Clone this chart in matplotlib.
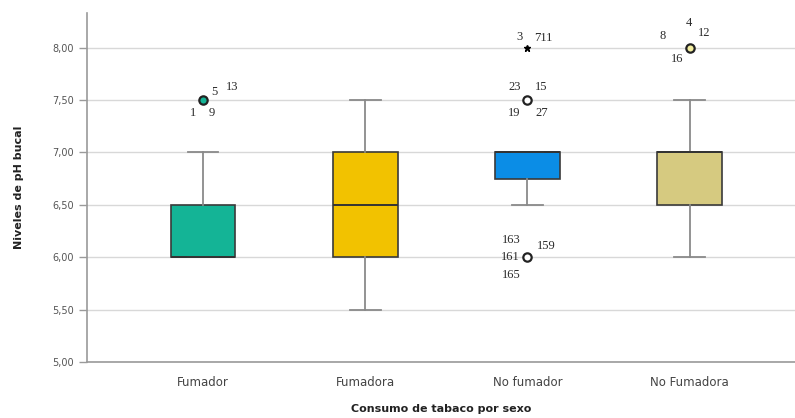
import matplotlib
matplotlib.use('Agg')
import matplotlib.pyplot as plt
from matplotlib.ticker import FuncFormatter

# datos
grupos = ['Fumador', 'Fumadora', 'No fumador', 'No Fumadora']
q1 = [6.0, 6.0, 6.75, 6.5]
mediana = [6.0, 6.5, 7.0, 7.0]
q3 = [6.5, 7.0, 7.0, 7.0]
bigote_inf = [6.0, 5.5, 6.5, 6.0]
bigote_sup = [7.0, 7.5, 7.0, 7.5]
colores = ['#14b496', '#f2c200', '#0b8de6', '#d6ca80']

# atipicos: (grupo, valor, tipo, etiquetas con desplazamiento en pixeles)
atipicos = [
    (0, 7.5, 'o', [('5', 11, 8), ('13', 29, 13), ('1', -10, -13), ('9', 9, -13)]),
    (2, 8.0, '*', [('3', -8, 11), ('711', 16, 10)]),
    (2, 7.5, 'o', [('23', -13, 13), ('15', 14, 13), ('19', -13, -13), ('27', 14, -13)]),
    (2, 6.0, 'o', [('163', -16, 17), ('159', 19, 11), ('161', -17, 0), ('165', -16, -18)]),
    (3, 8.0, 'o', [('8', -27, 12), ('4', -1, 25), ('12', 15, 15), ('16', -12, -11)]),
]
relleno_atipico = {0: '#14b496', 2: 'white', 3: '#f3eea0'}

fig = plt.figure(figsize=(7.95, 4.18), dpi=100)
ax = fig.add_axes([0.1094, 0.134, 0.8906, 0.835])

stats = []
for i in range(len(grupos)):
    stats.append({'med': mediana[i], 'q1': q1[i], 'q3': q3[i],
                  'whislo': bigote_inf[i], 'whishi': bigote_sup[i], 'fliers': []})

bp = ax.bxp(stats, positions=range(1, 5), widths=0.4, patch_artist=True,
            showfliers=False,
            boxprops=dict(edgecolor='#3a3a3a', linewidth=1.2),
            medianprops=dict(color='#333333', linewidth=1.4),
            whiskerprops=dict(color='#8a8a8a', linewidth=1.3),
            capprops=dict(color='#8a8a8a', linewidth=1.3))
for caja, c in zip(bp['boxes'], colores):
    caja.set_facecolor(c)
for cap in bp['caps']:
    x = cap.get_xdata()
    m = (x[0] + x[1]) / 2
    cap.set_xdata([m - 0.095, m + 0.095])

for g, v, tipo, etiquetas in atipicos:
    if tipo == '*':
        ax.plot(g + 1, v, marker='*', color='black', markersize=5, zorder=4)
    else:
        ax.plot(g + 1, v, marker='o', markerfacecolor=relleno_atipico[g],
                markeredgecolor='#222222', markeredgewidth=1.6, markersize=6, zorder=4)
    for txt, dx, dy in etiquetas:
        ax.annotate(txt, (g + 1, v), xytext=(dx, dy), textcoords='offset pixels',
                    ha='center', va='center', fontsize=9, color='#2a2a2a',
                    family='Liberation Serif')

ax.set_xlim(0.285, 4.65)
ax.set_ylim(5.0, 8.33)
ax.set_yticks([5.0, 5.5, 6.0, 6.5, 7.0, 7.5, 8.0])
ax.yaxis.set_major_formatter(FuncFormatter(lambda y, p: ('%.2f' % y).replace('.', ',')))
ax.set_xticks(range(1, 5))
ax.set_xticklabels(grupos)
ax.grid(axis='y', color='#d8d8d8', linewidth=1)
ax.set_axisbelow(True)
for s in ['top', 'right']:
    ax.spines[s].set_visible(False)
ax.spines['left'].set_color('#9a9a9a')
ax.spines['bottom'].set_color('#9a9a9a')
ax.spines['left'].set_linewidth(1.2)
ax.spines['bottom'].set_linewidth(1.2)
ax.tick_params(axis='y', colors='#9a9a9a', labelcolor='#555555', labelsize=7, length=6, width=1)
ax.tick_params(axis='x', length=0, labelsize=8.5, labelcolor='#444444', pad=10)
ax.set_ylabel('Niveles de pH bucal', fontsize=8, fontweight='bold', color='#222222', labelpad=20)
ax.set_xlabel('Consumo de tabaco por sexo', fontsize=8, fontweight='bold', color='#222222', labelpad=11)

fig.savefig('out.png', dpi=100)
